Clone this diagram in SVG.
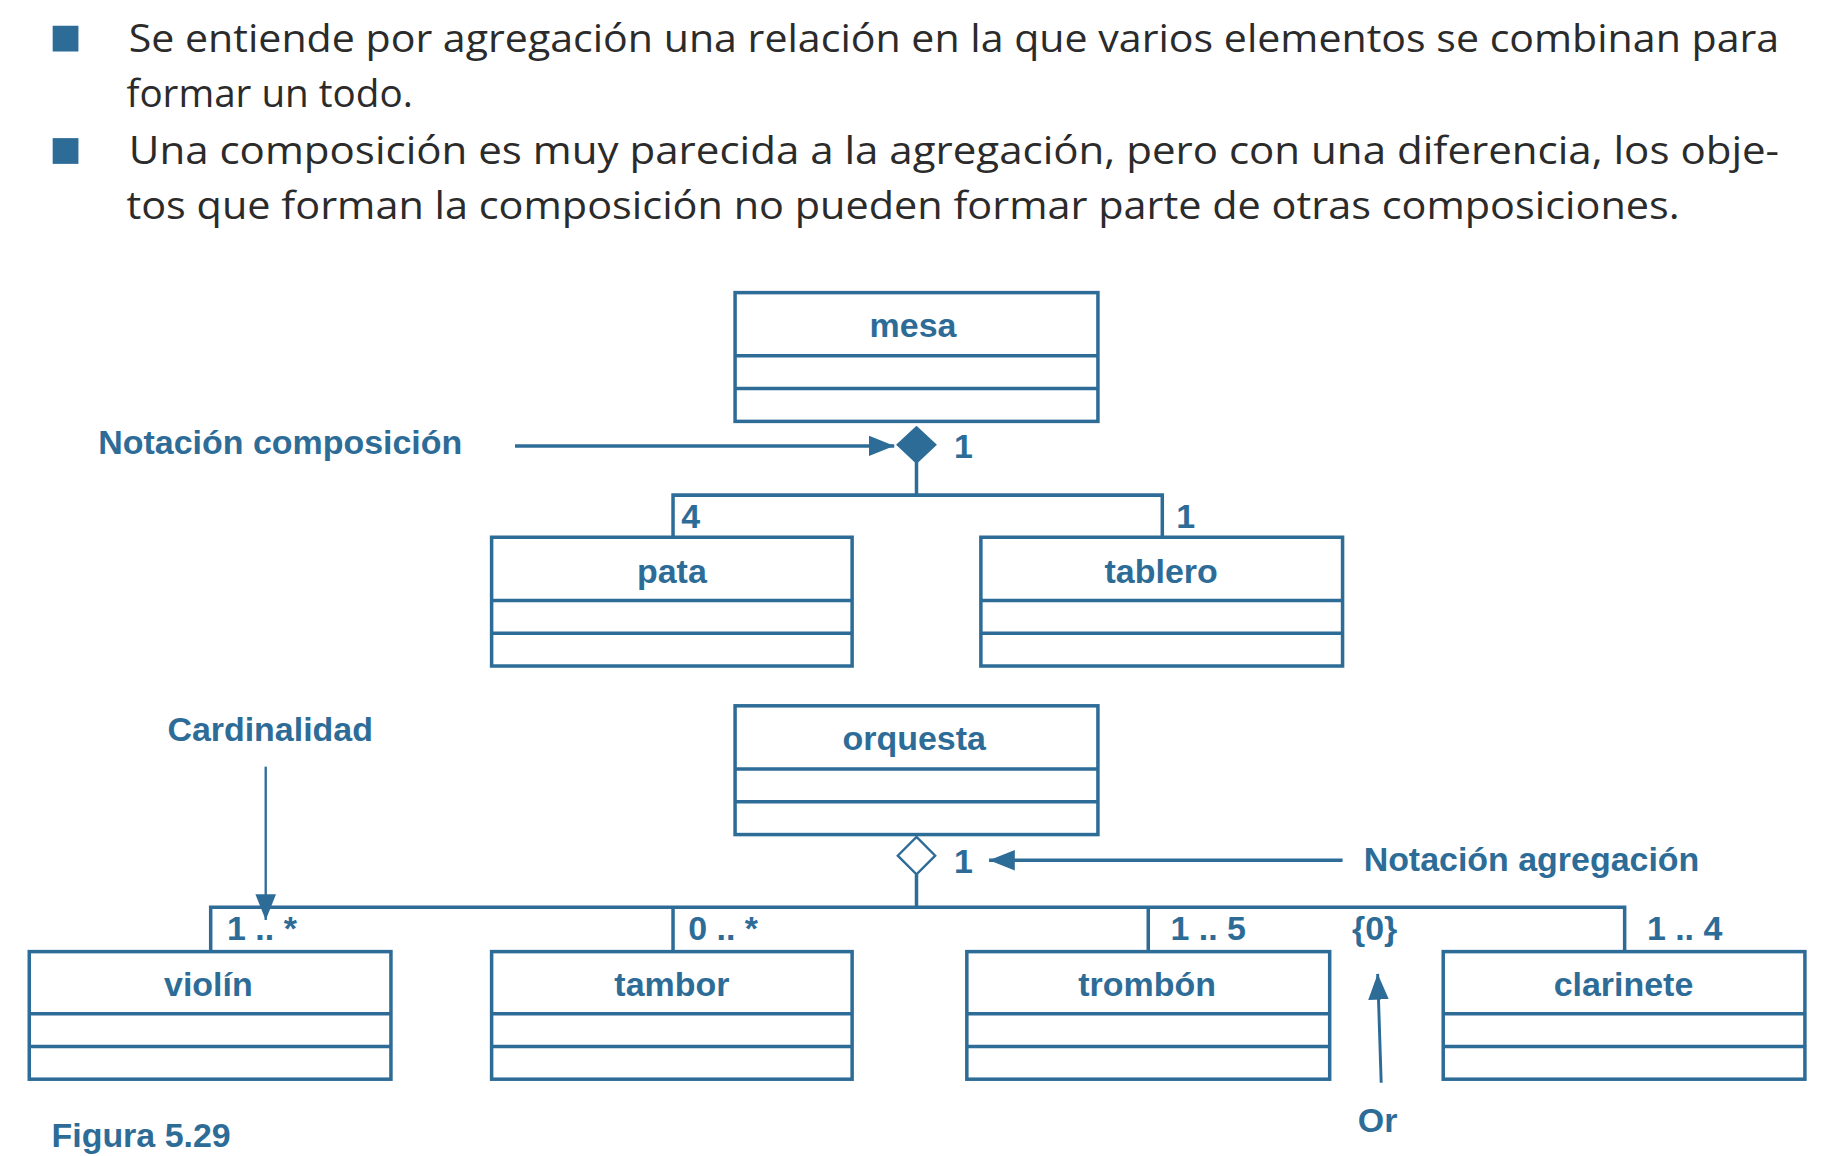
<svg xmlns="http://www.w3.org/2000/svg" width="1826" height="1156" viewBox="0 0 1826 1156">
<style>
.t{font-family:"Open Sans","Liberation Sans",sans-serif;font-size:33px;fill:#2b2b2b}
.l{font-family:"Liberation Sans",sans-serif;font-weight:bold;font-size:29px;fill:#2e6c98}
.c{text-anchor:middle}
.b{fill:#fff;stroke:#2e6c98;stroke-width:3}
.ln{stroke:#2e6c98;stroke-width:3;fill:none}
</style>
<defs>
<marker id="ah" viewBox="0 0 10 10" refX="10" refY="5" markerWidth="8" markerHeight="8" markerUnits="userSpaceOnUse" orient="auto">
<path d="M0,0 L10,5 L0,10 z" fill="#2e6c98"/></marker>
<marker id="a2" viewBox="0 0 10 10" refX="10" refY="5" markerWidth="22" markerHeight="22" markerUnits="userSpaceOnUse" orient="auto">
<path d="M0,1 L10,5 L0,9 z" fill="#2e6c98"/></marker>
</defs>
<rect width="1826" height="1156" fill="#fff"/>
<g transform="scale(1.1705)">
<g id="text">
<rect x="45" y="22" width="22" height="22" fill="#2e6c98"/>
<rect x="45" y="118" width="22" height="22" fill="#2e6c98"/>
<text class="t" x="110" y="44" textLength="1410" lengthAdjust="spacingAndGlyphs">Se entiende por agregación una relación en la que varios elementos se combinan para</text>
<text class="t" x="108" y="91">formar un todo.</text>
<text class="t" x="110" y="140" textLength="1410" lengthAdjust="spacingAndGlyphs">Una composición es muy parecida a la agregación, pero con una diferencia, los obje-</text>
<text class="t" x="108" y="187" textLength="1327" lengthAdjust="spacingAndGlyphs">tos que forman la composición no pueden formar parte de otras composiciones.</text>
</g>
<g id="mesa"><rect class="b" x="628" y="250" width="310" height="110"/><path class="ln" d="M628,304H938M628,332H938"/><text class="l c" x="780" y="288">mesa</text></g>
<g id="pata"><rect class="b" x="420" y="459" width="308" height="110"/><path class="ln" d="M420,513H728M420,541H728"/><text class="l c" x="574" y="498">pata</text></g>
<g id="tablero"><rect class="b" x="838" y="459" width="309" height="110"/><path class="ln" d="M838,513H1147M838,541H1147"/><text class="l c" x="992" y="498">tablero</text></g>
<g id="orquesta"><rect class="b" x="628" y="603" width="310" height="110"/><path class="ln" d="M628,657H938M628,685H938"/><text class="l c" x="781" y="641">orquesta</text></g>
<g id="violin"><rect class="b" x="25" y="813" width="309" height="109"/><path class="ln" d="M25,866H334M25,894H334"/><text class="l c" x="178" y="851">violín</text></g>
<g id="tambor"><rect class="b" x="420" y="813" width="308" height="109"/><path class="ln" d="M420,866H728M420,894H728"/><text class="l c" x="574" y="851">tambor</text></g>
<g id="trombon"><rect class="b" x="826" y="813" width="310" height="109"/><path class="ln" d="M826,866H1136M826,894H1136"/><text class="l c" x="980" y="851">trombón</text></g>
<g id="clarinete"><rect class="b" x="1233" y="813" width="309" height="109"/><path class="ln" d="M1233,866H1542M1233,894H1542"/><text class="l c" x="1387" y="851">clarinete</text></g>
<g id="connectors">
<path d="M783,365L799,380L783,395L767,380z" fill="#2e6c98" stroke="#2e6c98" stroke-width="2"/>
<path class="ln" d="M783,395V423M575,459V423H993V459"/>
<path d="M783,715L799,731L783,747L767,731z" fill="#fff" stroke="#2e6c98" stroke-width="2"/>
<path class="ln" d="M783,747V775M180,813V775H1388V813M575,775V813M981,775V813"/>
<line x1="440" y1="381" x2="764" y2="381" class="ln" marker-end="url(#a2)"/>
<line x1="1147" y1="735" x2="845" y2="735" class="ln" marker-end="url(#a2)"/>
<line x1="227" y1="655" x2="227" y2="786" stroke="#2e6c98" stroke-width="2" marker-end="url(#a2)"/>
<line x1="1180" y1="925" x2="1177" y2="832" stroke="#2e6c98" stroke-width="2.5" marker-end="url(#a2)"/>
</g>
<g id="labels">
<text class="l" x="84" y="388">Notación composición</text>
<text class="l" x="1165" y="744">Notación agregación</text>
<text class="l" x="143" y="633">Cardinalidad</text>
<text class="l" x="1160" y="967">Or</text>
<text class="l" x="44" y="980" font-size="32">Figura 5.29</text>
<text class="l" x="815" y="391">1</text>
<text class="l" x="815" y="746">1</text>
<text class="l" x="582" y="451">4</text>
<text class="l" x="1005" y="451">1</text>
<text class="l" x="194" y="803">1 .. *</text>
<text class="l" x="588" y="803">0 .. *</text>
<text class="l" x="1000" y="803">1 .. 5</text>
<text class="l" x="1155" y="803">{0}</text>
<text class="l" x="1407" y="803">1 .. 4</text>
</g>
</g>
</svg>
